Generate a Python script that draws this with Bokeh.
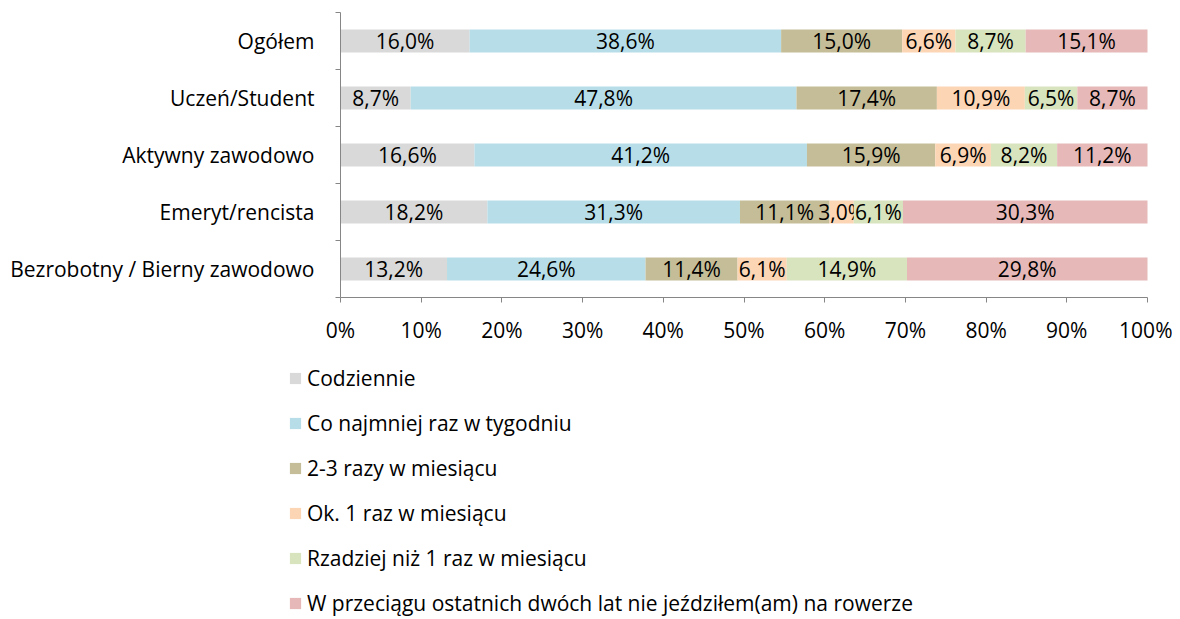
from bokeh.plotting import figure
from bokeh.models import ColumnDataSource, FixedTicker, Legend, LegendItem, Range1d
from bokeh.core.properties import value
from bokeh.embed import file_html
from bokeh.resources import INLINE

categories = ["Ogółem", "Uczeń/Student", "Aktywny zawodowo", "Emeryt/rencista",
              "Bezrobotny / Bierny zawodowo"]
series_names = ["Codziennie", "Co najmniej raz w tygodniu", "2-3 razy w miesiącu",
                "Ok. 1 raz w miesiącu", "Rzadziej niż 1 raz w miesiącu",
                "W przeciągu ostatnich dwóch lat nie jeździłem(am) na rowerze"]
codziennie = [16.0, 8.7, 16.6, 18.2, 13.2]
raz_w_tygodniu = [38.6, 47.8, 41.2, 31.3, 24.6]
dwa_trzy_razy = [15.0, 17.4, 15.9, 11.1, 11.4]
raz_w_miesiacu = [6.6, 10.9, 6.9, 3.0, 6.1]
rzadziej = [8.7, 6.5, 8.2, 6.1, 14.9]
nie_jezdzilem = [15.1, 8.7, 11.2, 30.3, 29.8]
colors = ["#D9D9D9", "#B7DEE8", "#C4BD97", "#FCD5B5", "#D7E4BD", "#E6B9B8"]
x_ticks = [0, 10, 20, 30, 40, 50, 60, 70, 80, 90, 100]

FONT = "Open Sans"
FS = "21px"

# page geometry (pixels)
W, H = 1172, 619
PLOT_L, PLOT_R, PLOT_T, PLOT_B = 340, 1147, 12, 297

all_series = [codziennie, raz_w_tygodniu, dwa_trzy_razy, raz_w_miesiacu, rzadziej, nie_jezdzilem]
n = len(categories)
ypos = [n - 1 - i for i in range(n)]

# ranges chosen so the data area sits at PLOT_* while the frame fills the whole canvas
xmax = 100.0
px_per_x = (PLOT_R - PLOT_L) / xmax
y_lo, y_hi = -0.5, n - 0.5
px_per_y = (PLOT_B - PLOT_T) / (y_hi - y_lo)
x_range = Range1d(-PLOT_L / px_per_x, xmax + (W - PLOT_R) / px_per_x)
y_range = Range1d(y_lo - (H - PLOT_B) / px_per_y, y_hi + PLOT_T / px_per_y)

p = figure(width=W, height=H, output_backend="svg", toolbar_location=None,
           x_range=x_range, y_range=y_range,
           min_border_left=0, min_border_right=0, min_border_top=0, min_border_bottom=0)
p.outline_line_color = None
p.grid.grid_line_color = None
p.background_fill_color = "white"
p.border_fill_color = "white"

cum = [0.0] * n
renderers = []
for vals, col in zip(all_series, colors):
    left = cum[:]
    right = [a + b for a, b in zip(cum, vals)]
    mid = [(a + b) / 2 for a, b in zip(left, right)]
    labels = [("%.1f" % v).replace(".", ",") + "%" for v in vals]
    src = ColumnDataSource(dict(y=ypos, left=left, right=right, mid=mid, label=labels))
    r = p.hbar(y="y", left="left", right="right", height=0.4, source=src,
               fill_color=col, line_color=None)
    p.text(x="mid", y="y", text="label", source=src, text_align="center",
           text_baseline="middle", text_font=value(FONT), text_font_size=FS,
           text_color="black")
    renderers.append(r)
    cum = right

# y axis: labels at centres, tick marks between categories
yax = p.yaxis[0]
yax.fixed_location = 0
yax.bounds = (y_lo, y_hi)
yax.ticker = FixedTicker(ticks=ypos, minor_ticks=[i - 0.5 for i in range(n + 1)])
yax.major_label_overrides = {y: c for y, c in zip(ypos, categories)}
yax.major_tick_line_color = None
yax.minor_tick_line_color = "#868686"
yax.minor_tick_out = 5
yax.minor_tick_in = 0
yax.axis_line_color = "#868686"
yax.major_label_text_font = FONT
yax.major_label_text_font_size = FS
yax.major_label_text_color = "black"
yax.major_label_standoff = 20

xax = p.xaxis[0]
xax.fixed_location = y_lo
xax.bounds = (0, xmax)
xax.ticker = FixedTicker(ticks=x_ticks)
xax.major_label_overrides = {t: "%d%%" % t for t in x_ticks}
xax.major_tick_line_color = "#868686"
xax.major_tick_out = 5
xax.major_tick_in = 0
xax.minor_tick_line_color = None
xax.axis_line_color = "#868686"
xax.major_label_text_font = FONT
xax.major_label_text_font_size = FS
xax.major_label_text_color = "black"
xax.major_label_standoff = 13

legend = Legend(items=[LegendItem(label=s, renderers=[r]) for s, r in zip(series_names, renderers)],
                location=(288, 2), orientation="vertical",
                glyph_width=14, glyph_height=14, label_standoff=5, spacing=17,
                padding=0, margin=0, border_line_color=None, background_fill_alpha=0,
                label_text_font=FONT, label_text_font_size=FS, label_text_color="black")
p.add_layout(legend, "center")

open("out.html", "w").write(file_html(p, INLINE))
